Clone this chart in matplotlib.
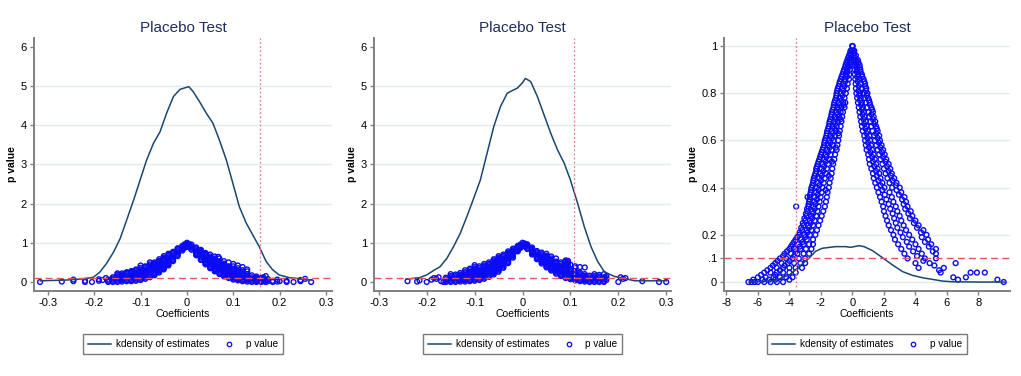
import matplotlib
matplotlib.use("Agg")
import matplotlib.pyplot as plt
from matplotlib import font_manager
from matplotlib.lines import Line2D

# ---------------- data ----------------
# Panel 1: kernel density of placebo estimates
kd1_x = [-0.316, -0.259, -0.223, -0.202, -0.188, -0.173, -0.158, -0.144, -0.13, -0.115, -0.101,
         -0.087, -0.072, -0.058, -0.044, -0.029, -0.015, 0.004, 0.013, 0.027, 0.042, 0.056,
         0.07, 0.085, 0.099, 0.113, 0.128, 0.142, 0.156, 0.171, 0.185, 0.199, 0.221, 0.242, 0.268]
kd1_y = [0.03, 0.05, 0.08, 0.12, 0.25, 0.48, 0.77, 1.11, 1.58, 2.09, 2.6,
         3.11, 3.54, 3.83, 4.3, 4.73, 4.91, 4.98, 4.86, 4.6, 4.3, 4.05,
         3.62, 3.11, 2.52, 1.92, 1.5, 1.2, 0.9, 0.52, 0.31, 0.18, 0.11, 0.085, 0.05]
# Panel 1: p values (coefficient columns and the p values read in each column)
pv1_x = [-0.317, -0.27, -0.245, -0.22, -0.205, -0.19, -0.182, -0.175,
         -0.17, -0.16, -0.15, -0.14, -0.13, -0.12, -0.11, -0.10, -0.09, -0.08, -0.07, -0.06,
         -0.05, -0.04, -0.03, -0.02, -0.01, -0.005, 0.0,
         0.005, 0.01, 0.02, 0.03, 0.04, 0.05, 0.06, 0.068, 0.07, 0.08, 0.09, 0.10, 0.11, 0.12,
         0.13, 0.14, 0.15, 0.16, 0.165, 0.17, 0.175, 0.185, 0.195, 0.2, 0.215, 0.23, 0.245,
         0.255, 0.268]
pv1_p = [[0.0], [0.01], [0.06, 0.02], [0.0, 0.03], [0.0], [0.03, 0.07], [0.05], [0.1],
         [0.0, 0.03, 0.06],
         [0.0, 0.03, 0.06, 0.09, 0.12],
         [0.0, 0.03, 0.06, 0.09, 0.12, 0.15, 0.19, 0.22],
         [0.01, 0.04, 0.07, 0.1, 0.13, 0.16, 0.19, 0.22],
         [0.02, 0.05, 0.08, 0.11, 0.14, 0.17, 0.2, 0.23, 0.25],
         [0.02, 0.05, 0.08, 0.11, 0.14, 0.17, 0.2, 0.23, 0.26, 0.28],
         [0.03, 0.06, 0.09, 0.12, 0.15, 0.18, 0.21, 0.24, 0.27, 0.3, 0.32],
         [0.05, 0.08, 0.11, 0.14, 0.17, 0.2, 0.23, 0.26, 0.29, 0.32, 0.36, 0.42],
         [0.08, 0.11, 0.14, 0.17, 0.2, 0.23, 0.26, 0.29, 0.32, 0.35, 0.38, 0.4],
         [0.12, 0.15, 0.18, 0.21, 0.24, 0.27, 0.3, 0.33, 0.36, 0.39, 0.42, 0.45, 0.5],
         [0.17, 0.2, 0.23, 0.26, 0.29, 0.32, 0.35, 0.38, 0.41, 0.44, 0.47, 0.5],
         [0.24, 0.27, 0.3, 0.33, 0.36, 0.39, 0.42, 0.45, 0.48, 0.51, 0.54, 0.58],
         [0.32, 0.35, 0.38, 0.41, 0.44, 0.47, 0.5, 0.53, 0.56, 0.59, 0.62, 0.66],
         [0.42, 0.45, 0.48, 0.51, 0.54, 0.57, 0.6, 0.63, 0.66, 0.69, 0.72],
         [0.53, 0.56, 0.59, 0.62, 0.65, 0.68, 0.71, 0.74, 0.77],
         [0.66, 0.69, 0.72, 0.75, 0.78, 0.81, 0.84, 0.86],
         [0.8, 0.83, 0.86, 0.89, 0.92],
         [0.87, 0.9, 0.93, 0.96],
         [0.94, 0.97, 1.0],
         [0.88, 0.91, 0.94, 0.97],
         [0.82, 0.85, 0.88, 0.91, 0.95],
         [0.68, 0.71, 0.74, 0.77, 0.8, 0.83, 0.86, 0.88],
         [0.56, 0.59, 0.62, 0.65, 0.68, 0.71, 0.74, 0.77, 0.8, 0.82],
         [0.45, 0.48, 0.51, 0.54, 0.57, 0.6, 0.63, 0.66, 0.69, 0.72, 0.74],
         [0.35, 0.38, 0.41, 0.44, 0.47, 0.5, 0.53, 0.56, 0.59, 0.62, 0.65, 0.7],
         [0.27, 0.3, 0.33, 0.36, 0.39, 0.42, 0.45, 0.48, 0.51, 0.54, 0.57, 0.6, 0.65],
         [0.64],
         [0.2, 0.23, 0.26, 0.29, 0.32, 0.35, 0.38, 0.41, 0.44, 0.47, 0.5, 0.53, 0.6],
         [0.14, 0.17, 0.2, 0.23, 0.26, 0.29, 0.32, 0.35, 0.38, 0.41, 0.44, 0.47, 0.53],
         [0.1, 0.13, 0.16, 0.19, 0.22, 0.25, 0.28, 0.31, 0.34, 0.37, 0.4, 0.5],
         [0.06, 0.09, 0.12, 0.15, 0.18, 0.21, 0.24, 0.27, 0.3, 0.33, 0.4, 0.46],
         [0.04, 0.07, 0.1, 0.13, 0.16, 0.19, 0.22, 0.25, 0.28, 0.35, 0.42],
         [0.02, 0.05, 0.08, 0.11, 0.14, 0.17, 0.2, 0.23, 0.3, 0.38],
         [0.01, 0.04, 0.07, 0.1, 0.13, 0.16, 0.2, 0.27, 0.32],
         [0.0, 0.03, 0.06, 0.09, 0.12, 0.17],
         [0.0, 0.02, 0.05, 0.08, 0.11, 0.14],
         [0.0, 0.03, 0.06, 0.1],
         [0.02, 0.08, 0.12], [0.0, 0.04, 0.15], [0.02, 0.07], [0.0, 0.03], [0.01, 0.06], [0.02],
         [0.0, 0.03], [0.0], [0.02, 0.05], [0.08], [0.0]]
ref1_x = 0.157

# Panel 2
kd2_x = [-0.243, -0.215, -0.2, -0.186, -0.172, -0.158, -0.144, -0.13, -0.116, -0.102, -0.088,
         -0.074, -0.06, -0.046, -0.032, -0.018, -0.011, 0.0, 0.006, 0.017, 0.031, 0.045, 0.059,
         0.073, 0.087, 0.1, 0.115, 0.129, 0.143, 0.157, 0.171, 0.192, 0.213, 0.234, 0.255, 0.3]
kd2_y = [0.07, 0.11, 0.18, 0.29, 0.39, 0.6, 0.9, 1.24, 1.67, 2.13, 2.6,
         3.28, 3.96, 4.47, 4.81, 4.9, 4.94, 5.08, 5.19, 5.11, 4.73, 4.26, 3.79,
         3.37, 3.03, 2.6, 2.01, 1.41, 0.9, 0.52, 0.26, 0.14, 0.09, 0.03, 0.03, 0.03]
pv2_x = [-0.24, -0.22, -0.215, -0.2, -0.19, -0.185, -0.18, -0.175, -0.17, -0.165,
         -0.16, -0.15, -0.14, -0.13, -0.12, -0.11, -0.10, -0.09, -0.08, -0.07, -0.06, -0.05,
         -0.04, -0.03, -0.02, -0.01, -0.005, 0.0, 0.005, 0.01, 0.02, 0.03, 0.04, 0.05, 0.06,
         0.07, 0.08, 0.09, 0.095, 0.10, 0.11, 0.12, 0.13, 0.14, 0.15, 0.16, 0.17, 0.175,
         0.2, 0.205, 0.21, 0.215, 0.25, 0.285, 0.3]
pv2_p = [[0.02], [0.01], [0.04], [0.0], [0.06], [0.1], [0.08], [0.12], [0.02], [0.0],
         [0.0, 0.03, 0.07, 0.11],
         [0.0, 0.03, 0.06, 0.09, 0.12, 0.15, 0.2],
         [0.0, 0.03, 0.06, 0.09, 0.12, 0.15, 0.19],
         [0.01, 0.04, 0.07, 0.1, 0.13, 0.16, 0.19, 0.23],
         [0.01, 0.04, 0.07, 0.1, 0.13, 0.16, 0.19, 0.22, 0.25, 0.3],
         [0.02, 0.05, 0.08, 0.11, 0.14, 0.17, 0.2, 0.23, 0.26, 0.3, 0.34],
         [0.03, 0.06, 0.09, 0.12, 0.15, 0.18, 0.21, 0.24, 0.27, 0.3, 0.34, 0.38, 0.43],
         [0.05, 0.08, 0.11, 0.14, 0.17, 0.2, 0.23, 0.26, 0.29, 0.32, 0.36, 0.4],
         [0.08, 0.11, 0.14, 0.17, 0.2, 0.23, 0.26, 0.29, 0.32, 0.35, 0.39, 0.42, 0.46],
         [0.13, 0.16, 0.19, 0.22, 0.25, 0.28, 0.31, 0.34, 0.37, 0.4, 0.43, 0.46, 0.5],
         [0.19, 0.22, 0.25, 0.28, 0.31, 0.34, 0.37, 0.4, 0.43, 0.46, 0.49, 0.52, 0.55, 0.58],
         [0.26, 0.29, 0.32, 0.35, 0.38, 0.41, 0.44, 0.47, 0.5, 0.53, 0.56, 0.59, 0.62, 0.66],
         [0.36, 0.39, 0.42, 0.45, 0.48, 0.51, 0.54, 0.57, 0.6, 0.63, 0.66, 0.7],
         [0.48, 0.51, 0.54, 0.57, 0.6, 0.63, 0.66, 0.69, 0.72, 0.75, 0.78],
         [0.62, 0.65, 0.68, 0.71, 0.74, 0.77, 0.8, 0.83, 0.85],
         [0.78, 0.81, 0.84, 0.87, 0.9, 0.92],
         [0.86, 0.89, 0.92, 0.95],
         [0.93, 0.96, 1.0],
         [0.9, 0.93, 0.96, 0.98],
         [0.84, 0.87, 0.9, 0.93, 0.96],
         [0.7, 0.73, 0.76, 0.79, 0.82, 0.85, 0.88],
         [0.58, 0.61, 0.64, 0.67, 0.7, 0.73, 0.76, 0.79],
         [0.47, 0.5, 0.53, 0.56, 0.59, 0.62, 0.65, 0.68, 0.71, 0.75],
         [0.37, 0.4, 0.43, 0.46, 0.49, 0.52, 0.55, 0.58, 0.61, 0.64, 0.67, 0.72],
         [0.29, 0.32, 0.35, 0.38, 0.41, 0.44, 0.47, 0.5, 0.53, 0.56, 0.6, 0.65],
         [0.21, 0.24, 0.27, 0.3, 0.33, 0.36, 0.39, 0.42, 0.45, 0.48, 0.52, 0.6],
         [0.15, 0.18, 0.21, 0.24, 0.27, 0.3, 0.33, 0.36, 0.39, 0.42, 0.46, 0.5],
         [0.1, 0.13, 0.16, 0.19, 0.22, 0.25, 0.28, 0.31, 0.34, 0.4, 0.48, 0.52, 0.55],
         [0.42, 0.45, 0.5, 0.54],
         [0.07, 0.1, 0.13, 0.16, 0.19, 0.22, 0.25, 0.28, 0.33, 0.44],
         [0.04, 0.07, 0.1, 0.13, 0.16, 0.19, 0.22, 0.26, 0.36, 0.4],
         [0.02, 0.05, 0.08, 0.11, 0.14, 0.17, 0.2, 0.24, 0.38],
         [0.01, 0.04, 0.07, 0.1, 0.13, 0.16, 0.2, 0.37],
         [0.0, 0.03, 0.06, 0.09, 0.12, 0.16],
         [0.0, 0.03, 0.06, 0.09, 0.12, 0.15, 0.2],
         [0.0, 0.03, 0.06, 0.1, 0.14, 0.18],
         [0.0, 0.03, 0.07, 0.12, 0.2],
         [0.05, 0.1, 0.15],
         [0.0], [0.12], [0.08], [0.1], [0.02], [0.0], [0.0]]
ref2_x = 0.108

# Panel 3: kernel density, and p values read as rows (p level -> coefficients)
kd3_x = [-6.5, -5.0, -4.0, -3.3, -2.77, -2.34, -1.92, -1.07, -0.43, -0.11, 0.42, 0.74, 1.27,
         1.91, 2.55, 3.19, 3.82, 4.46, 5.1, 5.73, 6.37, 8.06, 9.66]
kd3_y = [0.0, 0.005, 0.03, 0.07, 0.1, 0.13, 0.143, 0.15, 0.15, 0.147, 0.154, 0.15, 0.133,
         0.103, 0.072, 0.044, 0.028, 0.018, 0.011, 0.004, 0.001, 0.0, 0.0]
pv3_rows_p = [1.00, 0.98, 0.96, 0.94, 0.92, 0.90, 0.88, 0.86, 0.84, 0.82, 0.80, 0.78, 0.76,
              0.74, 0.72, 0.70, 0.68, 0.66, 0.64, 0.62, 0.60, 0.58, 0.56, 0.54, 0.52, 0.50,
              0.48, 0.46, 0.44, 0.42, 0.40, 0.38, 0.36, 0.34, 0.32, 0.30, 0.28, 0.26, 0.24,
              0.22, 0.20, 0.18, 0.16, 0.14, 0.12, 0.10, 0.08, 0.06, 0.04, 0.02, 0.01, 0.00]
pv3_rows_left = [[-0.02], [-0.12, -0.04], [-0.22, -0.08], [-0.33, -0.2, -0.08],
                 [-0.43, -0.28, -0.12], [-0.53, -0.35, -0.16], [-0.63, -0.42, -0.2],
                 [-0.73, -0.5, -0.22], [-0.83, -0.58, -0.3], [-0.93, -0.65, -0.35],
                 [-1.0, -0.72, -0.42], [-1.05, -0.8, -0.5], [-1.15, -0.88, -0.58, -0.45],
                 [-1.2, -0.95, -0.7, -0.5], [-1.3, -1.02, -0.75, -0.6], [-1.35, -1.1, -0.85, -0.65],
                 [-1.45, -1.18, -0.92, -0.7], [-1.5, -1.25, -1.0, -0.75], [-1.6, -1.3, -1.05, -0.8],
                 [-1.65, -1.4, -1.12, -0.85], [-1.75, -1.48, -1.2, -0.9], [-1.8, -1.55, -1.25, -0.95],
                 [-1.9, -1.62, -1.32, -1.0], [-2.0, -1.7, -1.4, -1.1], [-2.1, -1.8, -1.48, -1.15],
                 [-2.2, -1.88, -1.55, -1.22], [-2.3, -1.95, -1.62, -1.28],
                 [-2.35, -2.02, -1.68, -1.32], [-2.45, -2.1, -1.75, -1.38],
                 [-2.5, -2.18, -1.82, -1.45], [-2.6, -2.25, -1.9, -1.5], [-2.65, -2.3, -1.95, -1.58],
                 [-2.85, -2.7, -2.38, -2.02, -1.62], [-2.75, -2.42, -2.08, -1.68],
                 [-3.57, -2.8, -2.48, -2.15, -1.75], [-2.85, -2.55, -2.22, -1.85],
                 [-2.92, -2.62, -2.3, -1.95], [-3.0, -2.7, -2.4, -2.05], [-3.1, -2.8, -2.5, -2.15],
                 [-3.2, -2.9, -2.6, -2.25], [-3.4, -3.05, -2.7, -2.35], [-3.6, -3.25, -2.9, -2.5],
                 [-3.8, -3.45, -3.1, -2.75, -2.5], [-4.0, -3.65, -3.3, -2.95, -2.6],
                 [-4.3, -3.9, -3.5, -3.1, -2.75], [-4.6, -4.2, -3.8, -3.4, -3.0],
                 [-4.9, -4.5, -4.1, -3.7, -3.3, -3.0], [-5.2, -4.8, -4.4, -4.0, -3.6, -3.2],
                 [-5.6, -5.2, -4.8, -4.4, -4.0, -3.6], [-6.0, -5.5, -5.0, -4.6, -4.2, -3.8],
                 [-5.7, -4.9, -4.0], [-6.6, -6.4, -6.2, -6.0, -5.6, -5.2, -4.8, -4.4]]
pv3_rows_right = [[0.02], [0.04, 0.12], [0.08, 0.22], [0.1, 0.22, 0.35], [0.12, 0.28, 0.45],
                  [0.15, 0.32, 0.5], [0.15, 0.38, 0.6], [0.18, 0.45, 0.7], [0.2, 0.5, 0.8],
                  [0.22, 0.55, 0.88], [0.25, 0.48, 0.72, 0.95], [0.3, 0.53, 0.77, 1.0],
                  [0.35, 0.6, 0.85, 1.1], [0.4, 0.67, 0.93, 1.2], [0.45, 0.73, 1.02, 1.3],
                  [0.5, 0.78, 1.07, 1.35], [0.55, 0.85, 1.15, 1.45], [0.6, 0.9, 1.2, 1.5],
                  [0.65, 0.97, 1.28, 1.6], [0.75, 1.07, 1.38, 1.7], [0.8, 1.12, 1.43, 1.75],
                  [0.85, 1.18, 1.52, 1.85], [0.9, 1.25, 1.6, 1.95], [1.0, 1.35, 1.7, 2.05],
                  [1.05, 1.42, 1.78, 2.15], [1.1, 1.5, 1.9, 2.3], [1.2, 1.6, 2.0, 2.4],
                  [1.3, 1.7, 2.1, 2.5], [1.35, 1.78, 2.22, 2.65], [1.45, 1.9, 2.35, 2.8],
                  [1.55, 2.03, 2.52, 3.0], [1.65, 2.35, 3.1], [1.75, 2.5, 3.3], [1.85, 2.6, 3.4],
                  [1.95, 2.75, 3.5], [2.0, 2.85, 3.7], [2.1, 3.0, 3.8], [2.2, 3.1, 4.0],
                  [2.3, 3.25, 4.2], [2.45, 3.4, 4.5], [2.6, 3.6, 4.7], [2.7, 3.8, 4.8],
                  [2.9, 4.0, 5.0], [3.1, 4.2, 5.3], [3.3, 4.4, 5.3], [3.5, 4.6, 5.3],
                  [4.0, 4.9, 6.55], [4.2, 5.8], [5.6, 7.5, 7.9, 8.4], [6.4, 7.2], [6.7, 9.2], [9.6]]
# Panel 3: in-between p levels
pv3_mid_p = [0.97, 0.95, 0.93, 0.91, 0.89, 0.87, 0.85, 0.83, 0.81, 0.79, 0.77, 0.75, 0.73,
             0.71, 0.69, 0.67, 0.65, 0.63, 0.61, 0.59, 0.57, 0.55, 0.53, 0.51, 0.49, 0.47,
             0.45, 0.43, 0.41, 0.39, 0.37, 0.35, 0.33, 0.31, 0.29, 0.27, 0.25, 0.23, 0.21,
             0.19, 0.17, 0.15, 0.13, 0.11, 0.09, 0.07, 0.05, 0.03, 0.01]
pv3_mid_x = [[-0.15, 0.1], [-0.27, -0.1, 0.18], [-0.38, -0.15, 0.2, 0.38],
             [-0.47, -0.25, 0.24, 0.47], [-0.58, -0.3, 0.27, 0.52], [-0.69, -0.35, 0.3, 0.62],
             [-0.8, -0.45, 0.33, 0.75], [-0.88, -0.5, 0.4, 0.82], [-0.97, -0.57, 0.38, 0.86],
             [-1.02, -0.63, 0.42, 0.9], [-1.1, -0.7, 0.48, 1.05], [-1.18, -0.8, -0.55, 0.55, 1.12],
             [-1.25, -0.88, 0.6, 1.25], [-1.33, -0.95, 0.64, 1.2], [-1.4, -1.05, -0.75, 0.7, 1.3],
             [-1.47, -1.1, 0.75, 1.38], [-1.55, -1.15, 0.82, 1.55], [-1.62, -1.25, -0.9, 0.9, 1.5],
             [-1.7, -1.3, 0.95, 1.6], [-1.78, -1.4, 1.0, 1.68], [-1.85, -1.45, -1.05, 1.05, 1.78],
             [-1.95, -1.55, 1.15, 1.88], [-2.05, -1.65, 1.25, 1.95], [-2.15, -1.7, -1.3, 1.3, 2.1],
             [-2.25, -1.8, 1.4, 2.2], [-2.3, -1.85, 1.5, 2.3], [-2.4, -1.95, -1.5, 1.55, 2.45],
             [-2.48, -2.0, 1.65, 2.55], [-2.55, -2.1, 1.78, 2.75], [-2.62, -2.15, -1.7, 1.9, 2.8],
             [-2.68, -2.2, 2.05, 2.95], [-2.72, -2.25, 2.15, 3.15], [-2.78, -2.35, 2.3, 3.25],
             [-2.88, -2.4, 2.4, 3.35], [-2.95, -2.5, 2.55, 3.55], [-3.05, -2.55, 2.65, 3.65],
             [-3.15, -2.65, 2.75, 3.9], [-3.25, -2.75, 2.85, 4.1], [-3.35, -2.85, 3.05, 4.35],
             [-3.5, -3.0, 3.2, 4.4], [-3.7, -3.15, 3.45, 4.6], [-3.9, -3.35, 3.6, 4.85],
             [-4.15, -3.6, 3.85, 5.1], [-4.4, -3.7, 4.1], [-4.75, -4.0, 4.5], [-5.05, -4.3, 5.2],
             [-5.4, -4.6, 5.5], [-5.8, -4.9], [-6.3, -5.3]]
ref3_x = -3.55

ticks12_x = [-0.3, -0.2, -0.1, 0.0, 0.1, 0.2, 0.3]
ticklabels12_x = ["-0.3", "-0.2", "-0.1", "0", "0.1", "0.2", "0.3"]
ticks12_y = [0, 1, 2, 3, 4, 5, 6]
ticklabels12_y = ["0", "1", "2", "3", "4", "5", "6"]
ticks3_x = [-8, -6, -4, -2, 0, 2, 4, 6, 8]
ticklabels3_x = ["-8", "-6", "-4", "-2", "0", "2", "4", "6", "8"]
ticks3_y = [0, 0.1, 0.2, 0.4, 0.6, 0.8, 1]
ticklabels3_y = ["0", ".1", "0.2", "0.4", "0.6", "0.8", "1"]
pval_cut = 0.1

title_text = "Placebo Test"
xlabel_text = "Coefficients"
ylabel_text = "p value"
legend_labels = ["kdensity of estimates", "p value"]

# ---------------- style ----------------
avail = {f.name for f in font_manager.fontManager.ttflist}
fam = [f for f in ["Liberation Sans Narrow", "Liberation Sans", "DejaVu Sans"] if f in avail]
plt.rcParams["font.family"] = fam

LINE_C = "#1a476f"
PT_C = "#0a0af5"
GRID_C = "#e4ebee"
SPINE_C = "#808080"
TITLE_C = "#1e2d5a"

fig = plt.figure(figsize=(10.21, 3.76), dpi=100)
W, H = 1021.0, 376.0


def flatten_cols(cx, cp):
    xs, ys = [], []
    for x, ps in zip(cx, cp):
        for p in ps:
            xs.append(x)
            ys.append(p)
    return xs, ys


def flatten_rows(rp, rows):
    xs, ys = [], []
    for p, xl in zip(rp, rows):
        for x in xl:
            xs.append(x)
            ys.append(p)
    return xs, ys


def panel(left_px, right_px, kx, ky, xs, ys, vx, xlim, ylim, xt, xtl, yt, ytl, grid_y):
    ax = fig.add_axes([left_px / W, 1 - 291 / H, (right_px - left_px) / W, (291 - 38) / H])
    for g in grid_y:
        ax.axhline(g, color=GRID_C, lw=1.0, zorder=0)
    ax.scatter(xs, ys, s=12, facecolors="none", edgecolors=PT_C, linewidths=1.0, zorder=2)
    ax.plot(kx, ky, color=LINE_C, lw=1.1, zorder=3)
    ax.axhline(pval_cut, color="#e8545e", lw=1.0, dashes=(5, 3), zorder=4)
    ax.axvline(vx, color="#e27a8c", lw=0.9, dashes=(1.5, 1.8), zorder=4)
    ax.set_xlim(*xlim)
    ax.set_ylim(*ylim)
    ax.set_xticks(xt)
    ax.set_xticklabels(xtl)
    ax.set_yticks(yt)
    ax.set_yticklabels(ytl)
    for s in ["top", "right"]:
        ax.spines[s].set_visible(False)
    for s in ["left", "bottom"]:
        ax.spines[s].set_color(SPINE_C)
        ax.spines[s].set_linewidth(1.4)
    ax.tick_params(axis="both", direction="out", length=3, width=1, color=SPINE_C,
                   labelsize=8, labelcolor="black", pad=2)
    ax.set_title(title_text, fontsize=11, color=TITLE_C, pad=4)
    ax.set_xlabel(xlabel_text, fontsize=7.5, labelpad=1)
    ax.set_ylabel(ylabel_text, fontsize=7.5, fontweight="bold", labelpad=3)
    handles = [Line2D([], [], color=LINE_C, lw=1.1),
               Line2D([], [], ls="none", marker="o", markersize=3.2, markerfacecolor="none",
                      markeredgecolor=PT_C, markeredgewidth=0.9)]
    cxf = (left_px + right_px) / 2 / W
    fig.legend(handles, legend_labels, loc="center", bbox_to_anchor=(cxf, 1 - 344 / H), ncol=2,
               fontsize=7.2, frameon=True, fancybox=False, edgecolor="#7a7a7a", framealpha=1,
               handlelength=2.3, handletextpad=0.5, columnspacing=0.8, borderpad=0.5)
    return ax


x1, y1 = flatten_cols(pv1_x, pv1_p)
x2, y2 = flatten_cols(pv2_x, pv2_p)
xa, ya = flatten_rows(pv3_rows_p, pv3_rows_left)
xb, yb = flatten_rows(pv3_rows_p, pv3_rows_right)
xc, yc = flatten_rows(pv3_mid_p, pv3_mid_x)
x3, y3 = xa + xb + xc, ya + yb + yc

panel(34, 332, kd1_x, kd1_y, x1, y1, ref1_x, (-0.33, 0.313), (-0.23, 6.22),
      ticks12_x, ticklabels12_x, ticks12_y, ticklabels12_y, [1, 2, 3, 4, 5])
panel(374, 671, kd2_x, kd2_y, x2, y2, ref2_x, (-0.31, 0.31), (-0.23, 6.22),
      ticks12_x, ticklabels12_x, ticks12_y, ticklabels12_y, [1, 2, 3, 4, 5])
panel(724, 1010, kd3_x, kd3_y, x3, y3, ref3_x, (-8.15, 10.0), (-0.038, 1.034),
      ticks3_x, ticklabels3_x, ticks3_y, ticklabels3_y, [0, 0.2, 0.4, 0.6, 0.8, 1])

fig.savefig("out.png", dpi=100, facecolor="white")
